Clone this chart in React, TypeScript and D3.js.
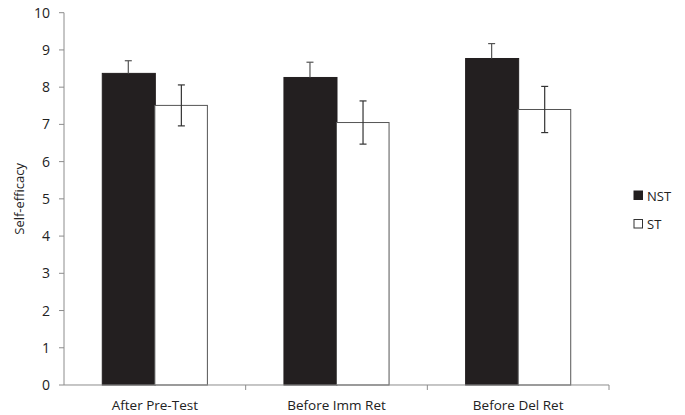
import React from 'react';
import * as d3 from 'd3';

// Chart data
const categories = ['After Pre-Test', 'Before Imm Ret', 'Before Del Ret'];
const series = ['NST', 'ST'];
const nstValues = [8.37, 8.26, 8.77];
const stValues = [7.51, 7.05, 7.4];
const nstErrors = [0.34, 0.41, 0.4];
const stErrors = [0.55, 0.58, 0.62];
const yTicks = [0, 1, 2, 3, 4, 5, 6, 7, 8, 9, 10];

const width = 685;
const height = 415;
const margin = { top: 12.7, right: 76, bottom: 30, left: 64 };
const font = '"Open Sans", sans-serif';
const axisColor = '#8c8c8c';

const App = () => {
  const innerW = width - margin.left - margin.right;
  const innerH = height - margin.top - margin.bottom;

  const x0 = d3.scaleBand().domain(categories).range([0, innerW]).paddingInner(0).paddingOuter(0);
  const x1 = d3.scaleBand().domain(series).range([0, x0.bandwidth()]).paddingOuter(0.712).paddingInner(0);
  const y = d3.scaleLinear().domain([0, 10]).range([innerH, 0]);

  const rows = categories.map((c, i) => ({
    cat: c,
    vals: [
      { key: 'NST', v: nstValues[i], e: nstErrors[i] },
      { key: 'ST', v: stValues[i], e: stErrors[i] },
    ],
  }));

  return (
    <svg width={width} height={height} style={{ display: 'block', position: 'absolute', left: 0, top: 0, background: '#fff' }}>
      <g transform={`translate(${margin.left},${margin.top})`}>
        {/* bars */}
        {rows.map(r => (
          <g key={r.cat} transform={`translate(${x0(r.cat)},0)`}>
            {r.vals.map(d => (
              <rect
                key={d.key}
                x={x1(d.key)! + (d.key === 'ST' ? 0 : 0.5)}
                y={y(d.v)}
                width={x1.bandwidth() - (d.key === 'ST' ? 0.5 : 0)}
                height={y(0) - y(d.v)}
                fill={d.key === 'NST' ? '#231f20' : '#fff'}
                stroke={d.key === 'NST' ? '#231f20' : '#555'}
                strokeWidth={1}
              />
            ))}
            {r.vals.map(d => {
              const cx = x1(d.key)! + x1.bandwidth() / 2;
              const top = y(d.v + d.e);
              const bot = d.key === 'NST' ? y(d.v) : y(d.v - d.e);
              return (
                <g key={d.key + 'e'} stroke={d.key === 'NST' ? '#555' : '#333'} strokeWidth={1.2}>
                  <line x1={cx} x2={cx} y1={top} y2={bot} />
                  <line x1={cx - 3.5} x2={cx + 3.5} y1={top} y2={top} />
                  {d.key === 'ST' && <line x1={cx - 3.5} x2={cx + 3.5} y1={bot} y2={bot} />}
                </g>
              );
            })}
          </g>
        ))}

        {/* y axis */}
        <line x1={0} x2={0} y1={0} y2={innerH} stroke={axisColor} />
        {yTicks.map(t => (
          <g key={t} transform={`translate(0,${y(t)})`}>
            <line x1={-5} x2={0} stroke={axisColor} />
            <text x={-14} dy="0.36em" textAnchor="end" fontFamily={font} fontSize={14} fill="#222">{t}</text>
          </g>
        ))}

        {/* x axis */}
        <line x1={0} x2={innerW} y1={innerH} y2={innerH} stroke={axisColor} />
        {categories.map(c => (
          <g key={c}>
            <line x1={x0(c)! + x0.bandwidth()} x2={x0(c)! + x0.bandwidth()} y1={innerH} y2={innerH + 5} stroke={axisColor} />
            <text x={x0(c)! + x0.bandwidth() / 2} y={innerH + 25} textAnchor="middle" fontFamily={font} fontSize={13.5} fill="#222">{c}</text>
          </g>
        ))}
      </g>

      {/* y label */}
      <text transform={`translate(24,${margin.top + innerH / 2}) rotate(-90)`} textAnchor="middle" fontFamily={font} fontSize={13} fill="#222">Self-efficacy</text>

      {/* legend */}
      {series.map((s, i) => (
        <g key={s} transform={`translate(634,${191 + i * 28.5})`}>
          <rect x={0} y={0} width={8.5} height={8.5} fill={s === 'NST' ? '#231f20' : '#fff'} stroke={s === 'NST' ? '#231f20' : '#333'} />
          <text x={13} y={9.5} fontFamily={font} fontSize={13} fill="#222">{s}</text>
        </g>
      ))}
    </svg>
  );
};

export default App;
